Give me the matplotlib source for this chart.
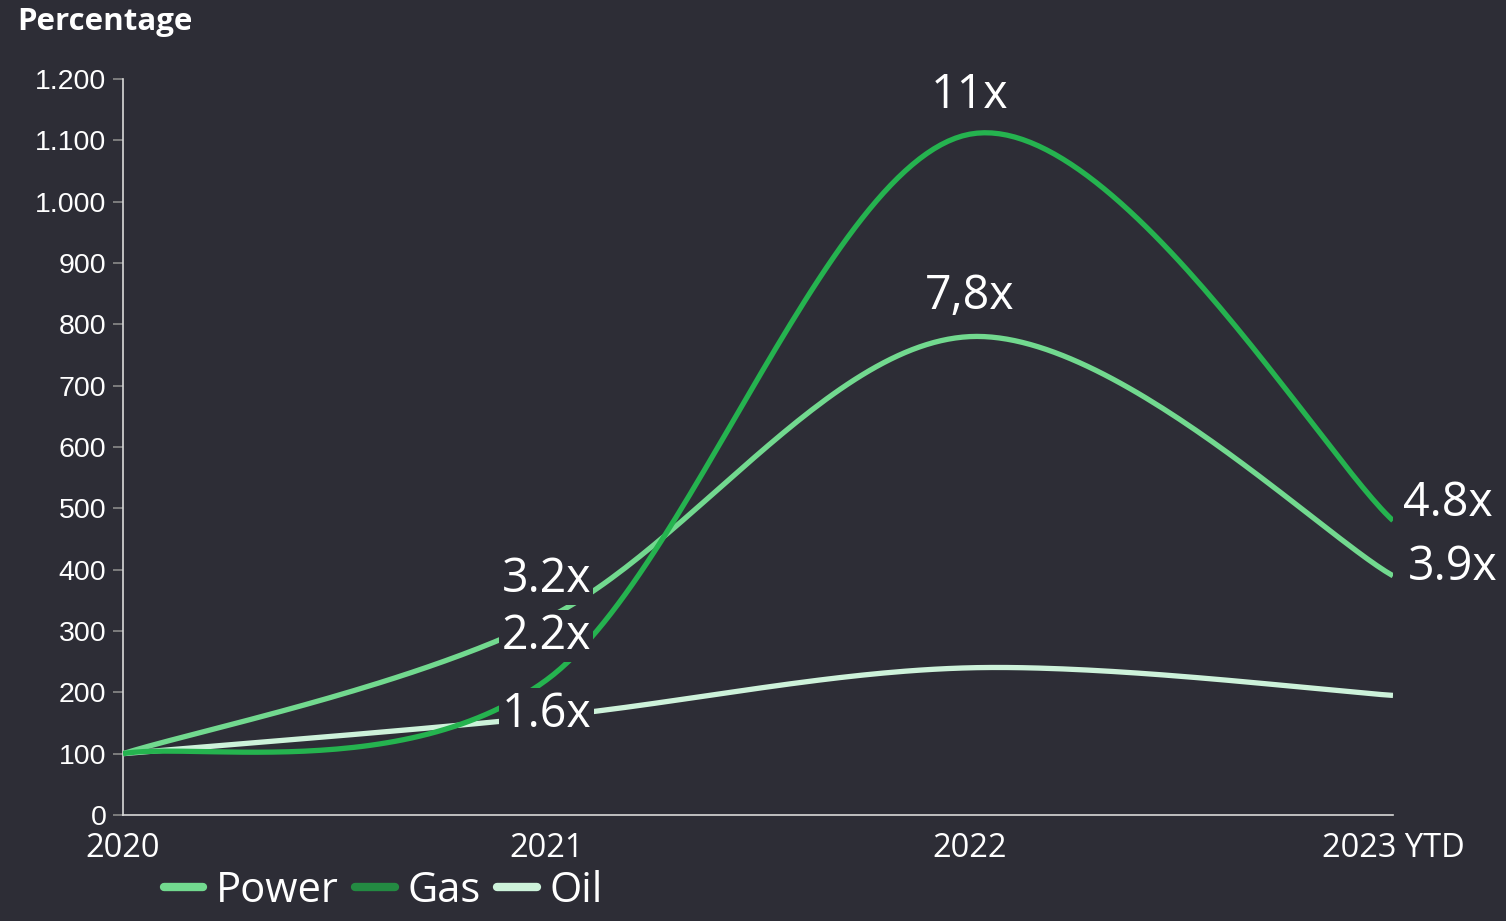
import numpy as np
import matplotlib
matplotlib.use("Agg")
import matplotlib.pyplot as plt
from matplotlib.lines import Line2D

# -----------------------------
# DATA
# -----------------------------

years = ["2020", "2021", "2022", "2023 YTD"]
power = [100, 320, 780, 390]
gas = [100, 220, 1110, 480]
oil = [100, 160, 240, 195]

power_labels = ["3.2x", "7,8x", "3.9x"]
gas_labels = ["2.2x", "11x", "4.8x"]
oil_labels = ["1.6x"]

# -----------------------------
# STYLE
# -----------------------------

bg = "#2d2d36"
c_power = "#72d98f"
c_gas = "#25b34f"
c_gas_legend = "#238a42"
c_oil = "#cdf2da"
txt = "white"


def smooth(xs, ys, n=60):
    # excel-like smoothed line (bezier through the points)
    pts = np.column_stack([xs, ys]).astype(float)
    out = []
    for i in range(len(pts) - 1):
        p0 = pts[i - 1] if i > 0 else pts[i]
        p1 = pts[i]
        p2 = pts[i + 1]
        p3 = pts[i + 2] if i + 2 < len(pts) else pts[i + 1]
        c1 = p1 + (p2 - p0) / 6
        c2 = p2 - (p3 - p1) / 6
        t = np.linspace(0, 1, n)[:, None]
        seg = (1 - t) ** 3 * p1 + 3 * (1 - t) ** 2 * t * c1 + 3 * (1 - t) * t ** 2 * c2 + t ** 3 * p2
        out.append(seg if i == 0 else seg[1:])
    seg = np.vstack(out)
    return seg[:, 0], seg[:, 1]


fig = plt.figure(figsize=(15.06, 9.21), dpi=100, facecolor=bg)
ax = fig.add_axes([123 / 1506, 1 - 815 / 921, (1393 - 123) / 1506, (815 - 79) / 921])
ax.set_facecolor(bg)

x = np.arange(len(years))
for vals, col in [(oil, c_oil), (power, c_power), (gas, c_gas)]:
    sx, sy = smooth(x, vals)
    ax.plot(sx, sy, color=col, linewidth=3.8, solid_capstyle="butt", zorder=3)

ax.set_xlim(0, 3)
ax.set_ylim(0, 1200)
ax.set_yticks(range(0, 1201, 100))
ax.set_yticklabels([f"{v:,}".replace(",", ".") for v in range(0, 1201, 100)],
                   fontsize=20.5, color=txt, family="Liberation Sans")
ax.set_xticks(x)
ax.set_xticklabels(years, fontsize=23.5, color=txt, family="Open Sans")
ax.tick_params(axis="y", length=7, width=1.2, color="#8a8a8a", pad=5)
ax.tick_params(axis="x", length=0, pad=12)
for s in ["top", "right"]:
    ax.spines[s].set_visible(False)
for s in ["left", "bottom"]:
    ax.spines[s].set_color("#d8d8d8")
    ax.spines[s].set_linewidth(1.2)

# data labels
box = dict(boxstyle="square,pad=0.05", facecolor=bg, edgecolor="none")
lab_kw = dict(fontsize=33.5, color=txt, family="Open Sans", ha="center", va="center", zorder=5)
ax.text(1, power[1] + 65, power_labels[0], bbox=box, **lab_kw)
ax.text(2, power[2] + 65, power_labels[1], **lab_kw)
ax.text(3.142, power[3] + 14, power_labels[2], **lab_kw)
ax.text(1, gas[1] + 72, gas_labels[0], bbox=box, **lab_kw)
ax.text(2, gas[2] + 64, gas_labels[1], **lab_kw)
ax.text(3.13, gas[3] + 28, gas_labels[2], **lab_kw)
ax.text(1, oil[1] + 4, oil_labels[0], bbox=box, **lab_kw)

fig.text(17 / 1506, 1 - 22 / 921, "Percentage", fontsize=22.5, fontweight="bold",
         color=txt, family="Open Sans", va="center", ha="left")

handles = [
    Line2D([0], [0], color=c_power, lw=6, solid_capstyle="round"),
    Line2D([0], [0], color=c_gas_legend, lw=6, solid_capstyle="round"),
    Line2D([0], [0], color=c_oil, lw=6, solid_capstyle="round"),
]
leg = fig.legend(handles, ["Power", "Gas", "Oil"], loc="center", ncol=3,
                 bbox_to_anchor=(383 / 1506, 1 - 891 / 921), frameon=False,
                 prop={"family": "Open Sans", "size": 30}, handlelength=0.95,
                 handletextpad=0.3, columnspacing=0.4, borderaxespad=0)
for t in leg.get_texts():
    t.set_color(txt)

fig.savefig("out.png", dpi=100, facecolor=bg)
